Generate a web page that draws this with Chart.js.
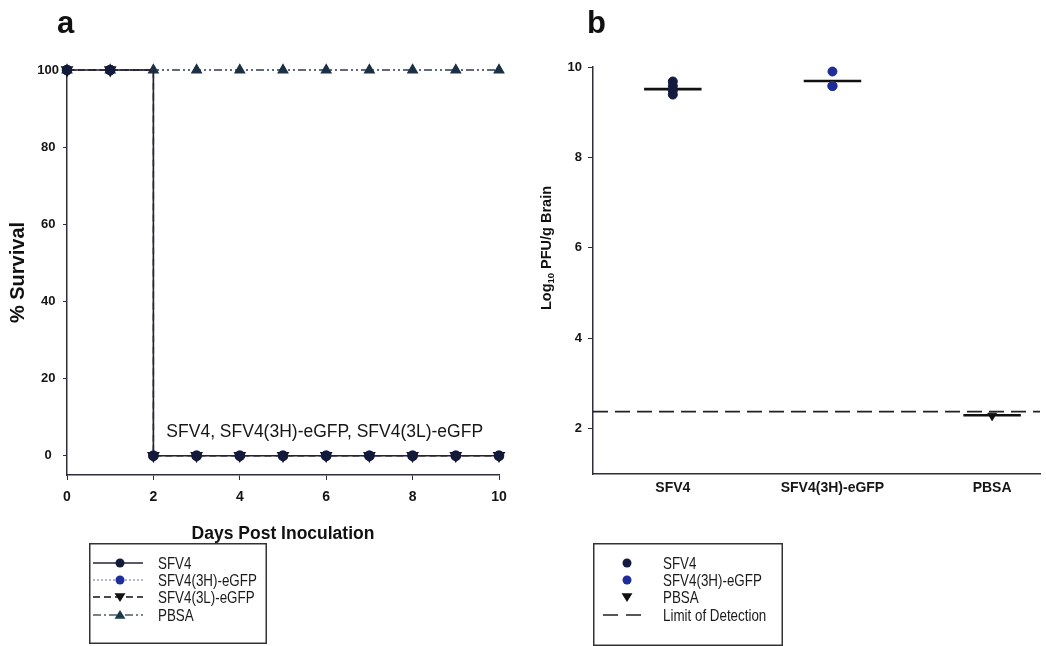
<!DOCTYPE html>
<html>
<head>
<meta charset="utf-8">
<script src="https://cdn.jsdelivr.net/npm/chart.js@4.4.1/dist/chart.umd.min.js"></script>
<style>
  html, body { margin: 0; padding: 0; background: #fff; }
  #page { position: relative; width: 1046px; height: 646px; overflow: hidden; font-family: "Liberation Sans", Arial, sans-serif; }
  canvas { position: absolute; top: 0; }
  .tag { position: absolute; font-weight: bold; font-size: 31px; line-height: 1; color: #111; }
  svg.legend { position: absolute; overflow: visible; }
</style>
</head>
<body>
<div id="page">
  <canvas id="chartA" width="540" height="560" style="left:0"></canvas>
  <canvas id="chartB" width="506" height="560" style="left:540px"></canvas>
  <div class="tag" style="left:57px;top:7px">a</div>
  <div class="tag" style="left:587px;top:7px">b</div>
  <svg id="legendA" class="legend" width="178" height="101" style="left:89px;top:543px"></svg>
  <svg id="legendB" class="legend" width="190" height="103" style="left:593px;top:543px"></svg>
</div>
<script>
// ---- panel a : survival ----
const days = [0, 1, 2, 3, 4, 5, 6, 7, 8, 9, 10];
const survivalSFV4 = [100, 100, 0, 0, 0, 0, 0, 0, 0, 0, 0];
const survivalSFV4_3H = [100, 100, 0, 0, 0, 0, 0, 0, 0, 0, 0];
const survivalSFV4_3L = [100, 100, 0, 0, 0, 0, 0, 0, 0, 0, 0];
const survivalPBSA = [100, 100, 100, 100, 100, 100, 100, 100, 100, 100, 100];
const dayTicks = [0, 2, 4, 6, 8, 10];
const survivalTicks = [0, 20, 40, 60, 80, 100];
const seriesNamesA = ['SFV4', 'SFV4(3H)-eGFP', 'SFV4(3L)-eGFP', 'PBSA'];
const noteText = 'SFV4, SFV4(3H)-eGFP, SFV4(3L)-eGFP';

// ---- panel b : brain titers ----
const groups = ['SFV4', 'SFV4(3H)-eGFP', 'PBSA'];
const titerSFV4 = [9.68, 9.58, 9.48, 9.39];
const titerSFV4_3H = [9.90, 9.58, 9.58];
const titerPBSA = [2.29];
const groupMeans = [9.51, 9.69, 2.30];
const limitOfDetection = 2.38;
const titerTicks = [2, 4, 6, 8, 10];
const seriesNamesB = ['SFV4', 'SFV4(3H)-eGFP', 'PBSA', 'Limit of Detection'];

const sans = '"Liberation Sans", Arial, sans-serif';
const axisColor = '#2e2e3a';

const toXY = (ys) => ys.map((y, i) => ({ x: days[i], y: y }));

// text note inside panel a
const notePlugin = {
    id: 'note',
    afterDatasetsDraw(chart) {
        const { ctx, scales } = chart;
        ctx.save();
        ctx.font = '17.5px ' + sans;
        ctx.fillStyle = '#161616';
        ctx.textBaseline = 'middle';
        ctx.fillText(noteText, scales.x.getPixelForValue(2.3), scales.y.getPixelForValue(6));
        ctx.restore();
    }
};

// y title of panel b, drawn by hand so the 10 can be a subscript
const yTitlePlugin = {
    id: 'yTitle',
    afterDraw(chart) {
        const { ctx } = chart;
        const parts = [['Log', 14.5, 0], ['10', 9.5, 4], [' PFU/g Brain', 14.5, 0]];
        ctx.save();
        ctx.translate(7, 248);
        ctx.rotate(-Math.PI / 2);
        ctx.fillStyle = '#111';
        ctx.textBaseline = 'middle';
        let total = 0;
        parts.forEach(p => { ctx.font = 'bold ' + p[1] + 'px ' + sans; total += ctx.measureText(p[0]).width; });
        let x = -total / 2;
        parts.forEach(p => {
            ctx.font = 'bold ' + p[1] + 'px ' + sans;
            ctx.fillText(p[0], x, p[2]);
            x += ctx.measureText(p[0]).width;
        });
        ctx.restore();
    }
};

new Chart(document.getElementById('chartA'), {
    type: 'line',
    data: {
        datasets: [
            {
                label: seriesNamesA[0], data: toXY(survivalSFV4), stepped: 'before', order: 0,
                borderColor: '#23233a', borderWidth: 1.6,
                pointStyle: 'circle', pointRadius: 4.5, pointBackgroundColor: '#141a3a', pointBorderColor: '#141a3a'
            },
            {
                label: seriesNamesA[1], data: toXY(survivalSFV4_3H), stepped: 'before', order: 1,
                borderColor: '#a05a6a', borderWidth: 1.2, borderDash: [2, 2],
                pointStyle: 'circle', pointRadius: 4.5, pointBackgroundColor: '#1f2e9a', pointBorderColor: '#1f2e9a'
            },
            {
                label: seriesNamesA[2], data: toXY(survivalSFV4_3L), stepped: 'before', order: 2,
                borderColor: '#111', borderWidth: 1.4, borderDash: [7, 4],
                pointStyle: 'triangle', rotation: 180, pointRadius: 6, pointBackgroundColor: '#111', pointBorderColor: '#111'
            },
            {
                label: seriesNamesA[3], data: toXY(survivalPBSA), stepped: 'before', order: 3,
                borderColor: '#2a3a55', borderWidth: 1.3, borderDash: [8, 3, 2, 3, 2, 3],
                pointStyle: 'triangle', pointRadius: 5.5, pointBackgroundColor: '#1a3044', pointBorderColor: '#1a3044'
            }
        ]
    },
    options: {
        responsive: false,
        animation: false,
        clip: false,
        layout: { padding: { top: 70, right: 41, left: 0, bottom: 0 } },
        plugins: { legend: { display: false }, tooltip: { enabled: false } },
        scales: {
            x: {
                type: 'linear', min: 0, max: 10,
                afterBuildTicks: s => { s.ticks = dayTicks.map(v => ({ value: v })); },
                afterFit: s => { s.height = 85; },
                grid: { drawOnChartArea: false, drawTicks: true, tickLength: 5, color: axisColor },
                border: { color: axisColor, width: 1.5 },
                ticks: { color: '#151515', padding: 9, maxRotation: 0, font: { family: sans, size: 14, weight: 'bold' } },
                title: { display: true, text: 'Days Post Inoculation', color: '#111', padding: { top: 0, bottom: 15 },
                         font: { family: sans, size: 17.5, weight: 'bold' } }
            },
            y: {
                type: 'linear', min: -5, max: 100,
                afterBuildTicks: s => { s.ticks = survivalTicks.map(v => ({ value: v })); },
                afterFit: s => { s.width = 67; },
                grid: { drawOnChartArea: false, drawTicks: true, tickLength: 4, color: axisColor },
                border: { color: axisColor, width: 1.5 },
                ticks: { color: '#151515', padding: 4, crossAlign: 'center', font: { family: sans, size: 13, weight: 'bold' } },
                title: { display: true, text: '% Survival', color: '#111', padding: { top: 6, bottom: 0 },
                         font: { family: sans, size: 20, weight: 'bold' } }
            }
        }
    },
    plugins: [notePlugin]
});

// ---- panel b ----
const meanHalfWidth = 0.18;
const xMinB = -0.5, xMaxB = 2.3;

const pointsAt = (vals, g) => vals.map(v => ({ x: g, y: v }));
const meanLine = (g) => [{ x: g - meanHalfWidth, y: groupMeans[g] }, { x: g + meanHalfWidth, y: groupMeans[g] }];
const plainLine = { type: 'line', borderColor: '#111', borderWidth: 2.6, pointRadius: 0, fill: false };

new Chart(document.getElementById('chartB'), {
    type: 'scatter',
    data: {
        datasets: [
            { label: seriesNamesB[0], data: pointsAt(titerSFV4, 0), pointRadius: 4.5, pointBackgroundColor: '#141a40', pointBorderColor: '#141a40', order: 0 },
            { label: seriesNamesB[1], data: pointsAt(titerSFV4_3H, 1), pointRadius: 4.5, pointBackgroundColor: '#1f2e96', pointBorderColor: '#1f2e96', order: 0 },
            { label: seriesNamesB[2], data: pointsAt(titerPBSA, 2), pointStyle: 'triangle', rotation: 180, pointRadius: 5, pointBackgroundColor: '#111', pointBorderColor: '#111', order: 0 },
            Object.assign({ label: 'mean SFV4', data: meanLine(0), order: 1 }, plainLine),
            Object.assign({ label: 'mean 3H', data: meanLine(1), order: 1 }, plainLine),
            Object.assign({ label: 'mean PBSA', data: meanLine(2), order: 1 }, plainLine),
            {
                type: 'line', label: seriesNamesB[3], order: 2,
                data: [{ x: xMinB, y: limitOfDetection }, { x: xMaxB, y: limitOfDetection }],
                borderColor: '#222', borderWidth: 1.6, borderDash: [15, 7], pointRadius: 0
            }
        ]
    },
    options: {
        responsive: false,
        animation: false,
        clip: false,
        layout: { padding: { top: 67, right: 0, left: 0, bottom: 0 } },
        plugins: { legend: { display: false }, tooltip: { enabled: false } },
        scales: {
            x: {
                type: 'linear', min: xMinB, max: xMaxB,
                afterBuildTicks: s => { s.ticks = groups.map((g, i) => ({ value: i })); },
                afterFit: s => { s.height = 86; },
                grid: { drawOnChartArea: false, drawTicks: false, color: axisColor },
                border: { color: axisColor, width: 1.5 },
                ticks: { color: '#151515', padding: 6, maxRotation: 0, autoSkip: false,
                         callback: v => groups[v], font: { family: sans, size: 14, weight: 'bold' } }
            },
            y: {
                type: 'linear', min: 1, max: 10,
                afterBuildTicks: s => { s.ticks = titerTicks.map(v => ({ value: v })); },
                afterFit: s => { s.width = 53; },
                grid: { drawOnChartArea: false, drawTicks: true, tickLength: 5, color: axisColor },
                border: { color: axisColor, width: 1.5 },
                ticks: { color: '#151515', padding: 6, font: { family: sans, size: 13, weight: 'bold' } }
            }
        }
    },
    plugins: [yTitlePlugin]
});

// ---- legends (svg, real text) ----
const NS = 'http://www.w3.org/2000/svg';
function el(svg, tag, attrs, text) {
    const n = document.createElementNS(NS, tag);
    for (const k in attrs) n.setAttribute(k, attrs[k]);
    if (text) n.textContent = text;
    svg.appendChild(n);
    return n;
}
function marker(svg, kind, cx, cy, fill) {
    if (kind === 'circle') return el(svg, 'circle', { cx: cx, cy: cy, r: 4.5, fill: fill });
    const s = 5.5, d = kind === 'down' ? -1 : 1;
    const pts = [[cx - s, cy + d * s * 0.7], [cx + s, cy + d * s * 0.7], [cx, cy - d * s * 0.9]];
    el(svg, 'polygon', { points: pts.map(p => p.join(',')).join(' '), fill: fill });
}
// legend text is narrow in the original, so squeeze it a bit
function label(svg, x, y, text) {
    const t = el(svg, 'text', { x: x, y: y, 'dominant-baseline': 'central', 'font-size': '16.5', 'font-family': sans, fill: '#1a1a1a' }, text);
    const w = t.getComputedTextLength();
    t.setAttribute('textLength', (w * 0.81).toFixed(1));
    t.setAttribute('lengthAdjust', 'spacingAndGlyphs');
}
const rowsY = [20, 37, 54, 72];

const legA = document.getElementById('legendA');
el(legA, 'rect', { x: 0.75, y: 0.75, width: 176.5, height: 99.5, fill: 'none', stroke: '#333', 'stroke-width': 1.5 });
const styleA = [
    { stroke: '#23233a', dash: '', mk: 'circle', fill: '#141a3a' },
    { stroke: '#9aa0b8', dash: '2,2', mk: 'circle', fill: '#1f2e9a' },
    { stroke: '#111', dash: '7,4', mk: 'down', fill: '#111' },
    { stroke: '#4a5a6a', dash: '8,3,2,3', mk: 'up', fill: '#1d3a48' }
];
seriesNamesA.forEach((name, i) => {
    const y = rowsY[i], st = styleA[i];
    el(legA, 'line', { x1: 4, x2: 54, y1: y, y2: y, stroke: st.stroke, 'stroke-width': 1.4, 'stroke-dasharray': st.dash });
    marker(legA, st.mk, 31, y, st.fill);
    label(legA, 69, y, name);
});

const legB = document.getElementById('legendB');
el(legB, 'rect', { x: 0.75, y: 0.75, width: 188.5, height: 101.5, fill: 'none', stroke: '#333', 'stroke-width': 1.5 });
const markB = [['circle', '#141a40'], ['circle', '#1f2e96'], ['down', '#111']];
seriesNamesB.forEach((name, i) => {
    const y = rowsY[i];
    if (i < 3) marker(legB, markB[i][0], 34, y, markB[i][1]);
    else el(legB, 'line', { x1: 10, x2: 49, y1: y, y2: y, stroke: '#222', 'stroke-width': 1.6, 'stroke-dasharray': '15,8' });
    label(legB, 70, y, name);
});
</script>
</body>
</html>
